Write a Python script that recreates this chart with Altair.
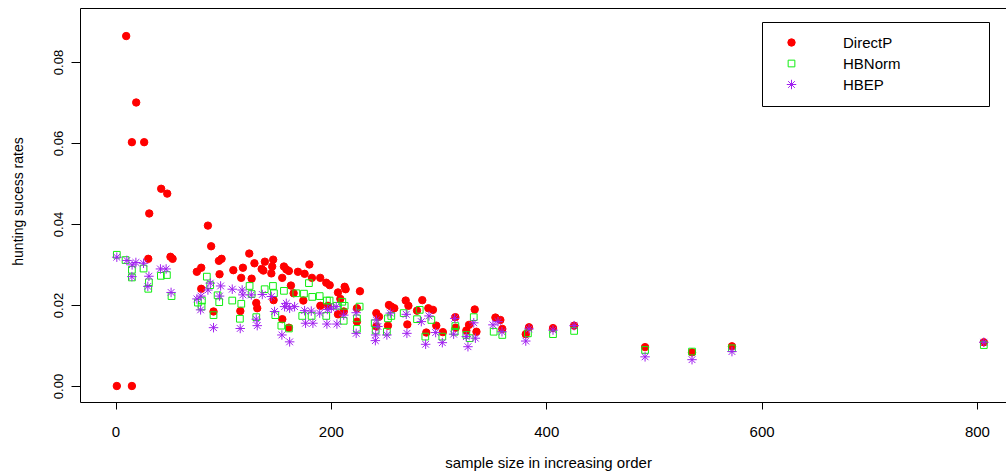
import altair as alt
import pandas as pd

series_names = ["DirectP", "HBNorm", "HBEP"]
series_colors = ["#FF0000", "#11EE11", "#A020F0"]
series_fills = ["#FF0000", "transparent", "transparent"]
asterisk = "M-1,0L1,0M0,-1L0,1M-0.71,-0.71L0.71,0.71M-0.71,0.71L0.71,-0.71"
series_shapes = ["circle", "square", asterisk]
series_sizes = [55, 45, 90]

x_ticks = [0, 200, 400, 600, 800]
y_ticks = [0.00, 0.02, 0.04, 0.06, 0.08]

directp_x = [1.2, 15.2, 9.9, 19.2, 15.2, 26.6, 42.4, 48.0, 31.3, 30.4, 51.0, 53.0, 85.8, 88.8,
             96.0, 98.5, 124.2, 129.0, 138.7, 146.4, 180.0, 79.6, 75.5, 96.6, 109.4, 118.3,
             116.7, 126.4, 135.7, 137.3, 145.5, 144.7, 156.4, 158.6, 161.0, 154.8, 169.4,
             175.6, 182.4, 190.1, 195.7, 198.9, 206.6, 162.9, 79.6, 91.0, 115.9, 131.6, 130.7,
             146.8, 165.4, 174.4, 190.2, 206.6, 154.9, 161.0, 212.8, 213.7, 227.0, 208.8,
             224.2, 224.2, 242.2, 244.7, 242.2, 253.9, 256.1, 258.9, 253.0, 269.5, 272.0,
             271.0, 284.9, 280.0, 290.5, 294.8, 288.6, 297.9, 304.0, 315.6, 315.9, 325.8,
             328.3, 333.6, 335.2, 352.8, 357.4, 359.2, 381.0, 384.0, 406.3, 425.9, 491.8,
             535.4, 572.5, 806.4, 212.0, 197.3]
directp_y = [0.0, 0.0, 0.0864, 0.0700, 0.0602, 0.0602, 0.0487, 0.0475, 0.0426, 0.0314, 0.0319,
             0.0314, 0.0396, 0.0345, 0.0309, 0.0314, 0.0327, 0.0303, 0.0307, 0.0312, 0.0300,
             0.0292, 0.0282, 0.0276, 0.0286, 0.0292, 0.0267, 0.0265, 0.0289, 0.0285, 0.0295,
             0.0278, 0.0295, 0.0288, 0.0284, 0.0267, 0.0282, 0.0277, 0.0267, 0.0267, 0.0255,
             0.0249, 0.0231, 0.0248, 0.0240, 0.0184, 0.0185, 0.0192, 0.0205, 0.0212, 0.0229,
             0.0211, 0.0198, 0.0177, 0.0165, 0.0144, 0.0245, 0.0239, 0.0234, 0.0215, 0.0192,
             0.0159, 0.0180, 0.0171, 0.0147, 0.0200, 0.0196, 0.0192, 0.0149, 0.0211, 0.0198,
             0.0152, 0.0212, 0.0186, 0.0192, 0.0188, 0.0132, 0.0149, 0.0133, 0.0170, 0.0144,
             0.0137, 0.0151, 0.0189, 0.0134, 0.0169, 0.0163, 0.0141, 0.0128, 0.0145, 0.0143,
             0.0149, 0.0096, 0.0083, 0.0098, 0.0108, 0.0184, 0.0198]

hbnorm_x = [1.2, 9.3, 15.2, 26.0, 15.2, 31.0, 30.4, 42.1, 47.7, 52.0, 84.8, 87.9, 80.2, 76.5,
            79.9, 91.0, 96.3, 94.8, 108.4, 116.8, 115.5, 124.5, 126.4, 138.5, 146.2, 147.1,
            156.4, 167.9, 175.0, 179.6, 182.7, 189.6, 196.3, 130.7, 148.4, 154.0, 161.0, 173.4,
            182.1, 195.7, 205.6, 198.8, 210.6, 212.8, 211.9, 226.7, 224.2, 224.2, 240.7, 241.6,
            253.0, 256.1, 252.0, 267.6, 280.0, 282.5, 293.3, 287.7, 303.5, 315.6, 315.0, 325.8,
            328.9, 332.7, 351.2, 359.2, 383.0, 406.3, 425.9, 491.8, 535.4, 572.5, 806.4]
hbnorm_y = [0.0324, 0.0311, 0.0287, 0.0290, 0.0268, 0.0256, 0.0240, 0.0272, 0.0274, 0.0222,
            0.0270, 0.0249, 0.0211, 0.0206, 0.0196, 0.0175, 0.0207, 0.0224, 0.0211, 0.0203,
            0.0166, 0.0247, 0.0227, 0.0239, 0.0247, 0.0229, 0.0235, 0.0229, 0.0228, 0.0254,
            0.0220, 0.0222, 0.0211, 0.0170, 0.0175, 0.0149, 0.0142, 0.0173, 0.0173, 0.0173,
            0.0198, 0.0211, 0.0208, 0.0198, 0.0161, 0.0196, 0.0167, 0.0141, 0.0155, 0.0137,
            0.0167, 0.0173, 0.0134, 0.0180, 0.0165, 0.0188, 0.0163, 0.0122, 0.0122, 0.0148,
            0.0134, 0.0126, 0.0118, 0.0170, 0.0134, 0.0126, 0.0130, 0.0128, 0.0136, 0.0089,
            0.0085, 0.0093, 0.0101]

hbep_x = [1.2, 10.5, 15.4, 18.9, 26.0, 15.2, 31.0, 30.0, 41.7, 47.0, 51.6, 75.6, 79.3, 79.0,
          88.0, 97.6, 96.6, 85.8, 91.0, 108.4, 117.6, 118.3, 115.8, 126.1, 136.3, 144.7, 130.7,
          131.6, 147.7, 157.0, 161.7, 166.3, 158.6, 154.5, 161.7, 175.6, 181.8, 176.5, 183.3,
          189.6, 196.7, 196.3, 205.6, 205.0, 200.4, 211.9, 223.5, 223.5, 242.2, 243.7, 241.6,
          241.3, 252.0, 255.2, 270.0, 270.6, 284.0, 288.0, 291.1, 297.3, 303.5, 315.0, 314.0,
          325.8, 327.3, 334.2, 332.7, 350.5, 355.2, 358.9, 381.0, 384.0, 406.3, 425.9, 491.8,
          535.4, 572.5, 806.4]
hbep_y = [0.0318, 0.0310, 0.0299, 0.0305, 0.0303, 0.0270, 0.0271, 0.0246, 0.0289, 0.0289,
          0.0231, 0.0215, 0.0222, 0.0188, 0.0254, 0.0247, 0.0222, 0.0237, 0.0144, 0.0239,
          0.0237, 0.0225, 0.0142, 0.0225, 0.0226, 0.0221, 0.0165, 0.0149, 0.0184, 0.0196,
          0.0192, 0.0196, 0.0204, 0.0126, 0.0109, 0.0186, 0.0185, 0.0155, 0.0155, 0.0180,
          0.0189, 0.0153, 0.0153, 0.0196, 0.0192, 0.0175, 0.0181, 0.0130, 0.0163, 0.0147,
          0.0126, 0.0112, 0.0126, 0.0180, 0.0177, 0.0130, 0.0159, 0.0103, 0.0173, 0.0132,
          0.0107, 0.0167, 0.0128, 0.0122, 0.0097, 0.0118, 0.0156, 0.0151, 0.0159, 0.0134,
          0.0111, 0.0141, 0.0138, 0.0149, 0.0072, 0.0065, 0.0085, 0.0108]

frames = []
for name, xs, ys in [("DirectP", directp_x, directp_y),
                     ("HBNorm", hbnorm_x, hbnorm_y),
                     ("HBEP", hbep_x, hbep_y)]:
    frames.append(pd.DataFrame({"x": xs, "y": ys, "series": name}))
df = pd.concat(frames, ignore_index=True)
df["order"] = range(len(df))

FONT = "Liberation Sans"
x_scale = alt.Scale(domain=[-33, 827], nice=False, zero=False)
y_scale = alt.Scale(domain=[-0.00395, 0.09333], nice=False, zero=False)

points = alt.Chart(df).mark_point(filled=False, opacity=1, strokeWidth=1).encode(
    x=alt.X("x:Q", scale=x_scale,
            axis=alt.Axis(values=x_ticks, tickSize=7, labelPadding=15, labelFontSize=15,
                          labelFont=FONT, labelColor="black", tickColor="black",
                          domainColor="black", grid=False,
                          title="sample size in increasing order", titleFont=FONT,
                          titleFontSize=15, titleFontWeight="normal", titleColor="black",
                          titleX=468, titleY=65, titleBaseline="alphabetic",
                          titleAlign="center")),
    y=alt.Y("y:Q", scale=y_scale,
            axis=alt.Axis(values=y_ticks, format=".2f", tickSize=9, labelPadding=9,
                          labelFontSize=13, labelFont=FONT, labelColor="black",
                          labelAngle=270, labelAlign="center", labelBaseline="alphabetic",
                          tickColor="black", domainColor="black", grid=False,
                          title="hunting sucess rates", titleFont=FONT, titleFontSize=14,
                          titleFontWeight="normal", titleColor="black",
                          titleX=-58, titleY=193, titleBaseline="alphabetic",
                          titleAlign="center", titleAngle=270)),
    color=alt.Color("series:N", scale=alt.Scale(domain=series_names, range=series_colors),
                    legend=alt.Legend(orient="none", legendX=682, legendY=14, title=" ",
                                      titleOrient="right", titlePadding=75,
                                      titleFontSize=15, titleFont=FONT,
                                      strokeColor="black", fillColor="white", padding=13,
                                      rowPadding=5, labelFont=FONT, labelFontSize=15,
                                      labelColor="black", labelOffset=44, symbolOffset=9,
                                      symbolStrokeWidth=1)),
    fill=alt.Fill("series:N", scale=alt.Scale(domain=series_names, range=series_fills)),
    shape=alt.Shape("series:N", scale=alt.Scale(domain=series_names, range=series_shapes)),
    size=alt.Size("series:N", scale=alt.Scale(type="ordinal", domain=series_names,
                                              range=series_sizes)),
    order=alt.Order("order:Q"),
)

top_frame = alt.Chart(df).mark_point(opacity=0).encode(
    x=alt.X("x:Q", scale=x_scale,
            axis=alt.Axis(orient="top", labels=False, ticks=False, domain=True,
                          domainColor="black", grid=False, title="")),
)

chart = alt.layer(points, top_frame).resolve_axis(x="independent").properties(
    width=926, height=394,
    autosize=alt.AutoSizeParams(type="none"),
    padding={"left": 80, "top": 8, "right": 0, "bottom": 70},
    background="white",
).configure_view(stroke="transparent")

chart.save("out.html", embed_options={"renderer": "svg", "actions": False})
